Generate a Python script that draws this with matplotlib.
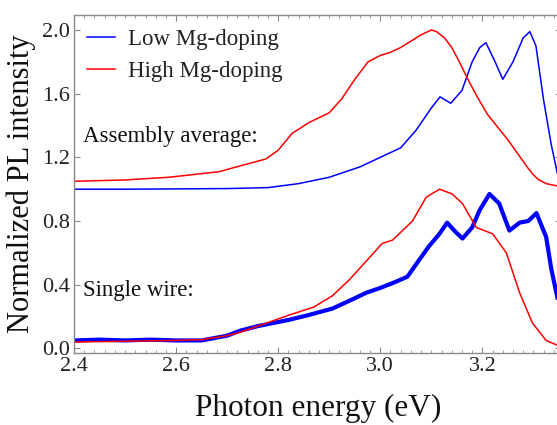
import matplotlib
matplotlib.use("Agg")
import matplotlib.pyplot as plt
from matplotlib.ticker import MultipleLocator

plt.rcParams['font.family'] = ['Liberation Serif', 'DejaVu Serif']

# Assembly average (offset) spectra
asm_low_x = [2.40, 2.50, 2.60, 2.70, 2.78, 2.84, 2.90, 2.96, 3.00, 3.04, 3.07, 3.10, 3.117,
             3.138, 3.16, 3.18, 3.195, 3.207, 3.225, 3.24, 3.26, 3.28, 3.293, 3.305, 3.32,
             3.335, 3.347]
asm_low_y = [1.00, 1.00, 1.002, 1.004, 1.01, 1.035, 1.075, 1.14, 1.20, 1.26, 1.37, 1.51, 1.58,
             1.54, 1.62, 1.80, 1.89, 1.92, 1.80, 1.69, 1.80, 1.95, 1.99, 1.90, 1.56,
             1.28, 1.10]

asm_high_x = [2.40, 2.50, 2.586, 2.684, 2.718, 2.776, 2.80, 2.827, 2.861, 2.90, 2.925, 2.95,
              2.976, 3.00, 3.02, 3.04, 3.06, 3.08, 3.10, 3.11, 3.126, 3.14, 3.155, 3.17,
              3.19, 3.21, 3.23, 3.25, 3.27, 3.29, 3.30, 3.31, 3.325, 3.347]
asm_high_y = [1.05, 1.058, 1.075, 1.11, 1.14, 1.19, 1.245, 1.35, 1.42, 1.48, 1.57, 1.69,
              1.80, 1.84, 1.86, 1.89, 1.93, 1.97, 2.00, 1.99, 1.95, 1.89, 1.80, 1.70,
              1.58, 1.47, 1.39, 1.31, 1.22, 1.13, 1.09, 1.06, 1.035, 1.02]

# Single wire spectra
sw_low_x = [2.40, 2.45, 2.50, 2.55, 2.60, 2.65, 2.70, 2.724, 2.76, 2.822, 2.86, 2.906, 2.94,
            2.973, 3.00, 3.024, 3.053, 3.075, 3.095, 3.116, 3.131, 3.145, 3.161, 3.18, 3.195,
            3.214, 3.233, 3.253, 3.273, 3.29, 3.306, 3.325, 3.335, 3.347]
sw_low_y = [0.05, 0.055, 0.05, 0.055, 0.05, 0.05, 0.08, 0.11, 0.14, 0.18, 0.21, 0.25, 0.30,
            0.35, 0.38, 0.41, 0.45, 0.55, 0.64, 0.72, 0.79, 0.74, 0.69, 0.76, 0.87,
            0.97, 0.91, 0.74, 0.79, 0.80, 0.85, 0.70, 0.50, 0.32]

sw_high_x = [2.40, 2.50, 2.60, 2.65, 2.70, 2.724, 2.76, 2.822, 2.87, 2.906, 2.939, 2.973,
             3.004, 3.024, 3.063, 3.09, 3.116, 3.141, 3.161, 3.188, 3.22, 3.247, 3.273,
             3.298, 3.325, 3.347]
sw_high_y = [0.04, 0.045, 0.05, 0.055, 0.08, 0.10, 0.14, 0.21, 0.26, 0.33, 0.43, 0.55,
             0.66, 0.68, 0.80, 0.95, 1.00, 0.97, 0.91, 0.76, 0.72, 0.60, 0.35,
             0.16, 0.05, 0.02]

fig = plt.figure(figsize=(5.57, 4.25), dpi=100)
ax = fig.add_axes([0.133, 0.169, 0.875, 0.796])

ax.plot(sw_low_x, sw_low_y, color='#0000ff', lw=3.0, solid_joinstyle='round')
ax.plot(sw_high_x, sw_high_y, color='#ff0000', lw=1.1)
l1, = ax.plot(asm_low_x, asm_low_y, color='#0000ff', lw=1.1, label='Low Mg-doping')
l2, = ax.plot(asm_high_x, asm_high_y, color='#ff0000', lw=1.1, label='High Mg-doping')

ax.set_xlim(2.4, 3.355)
ax.set_ylim(-0.03, 2.095)
ax.xaxis.set_major_locator(MultipleLocator(0.2))
ax.xaxis.set_minor_locator(MultipleLocator(0.02))
ax.yaxis.set_major_locator(MultipleLocator(0.4))
ax.xaxis.set_major_formatter(plt.FuncFormatter(lambda v, p: f"{v:.1f}"))
ax.yaxis.set_major_formatter(plt.FuncFormatter(lambda v, p: f"{v:.1f}"))

for sp in ax.spines.values():
    sp.set_color('#8a8a8a')
    sp.set_linewidth(1.0)
ax.tick_params(which='both', direction='in', top=True, right=True, color='#8a8a8a',
               labelsize=16, labelcolor='#222222')
ax.tick_params(which='major', length=4, width=0.8, pad=3)
ax.tick_params(which='minor', length=2, width=0.6)

ax.set_xlabel('Photon energy (eV)', fontsize=22.5, color='#111111', labelpad=13)
ax.set_ylabel('Normalized PL intensity', fontsize=22, color='#111111', labelpad=4)

ax.text(2.417, 1.33, 'Assembly average:', fontsize=16.5, va='center', ha='left', color='#111111')
ax.text(2.417, 0.365, 'Single wire:', fontsize=16.5, va='center', ha='left', color='#111111')

leg = ax.legend(handles=[l1, l2], loc='upper left', bbox_to_anchor=(0.0, 0.995), frameon=False,
                fontsize=16.5, handlelength=1.25, handletextpad=0.55, labelspacing=0.45,
                borderaxespad=0.15)
for t in leg.get_texts():
    t.set_color('#222222')

fig.savefig('out.png', dpi=100)
